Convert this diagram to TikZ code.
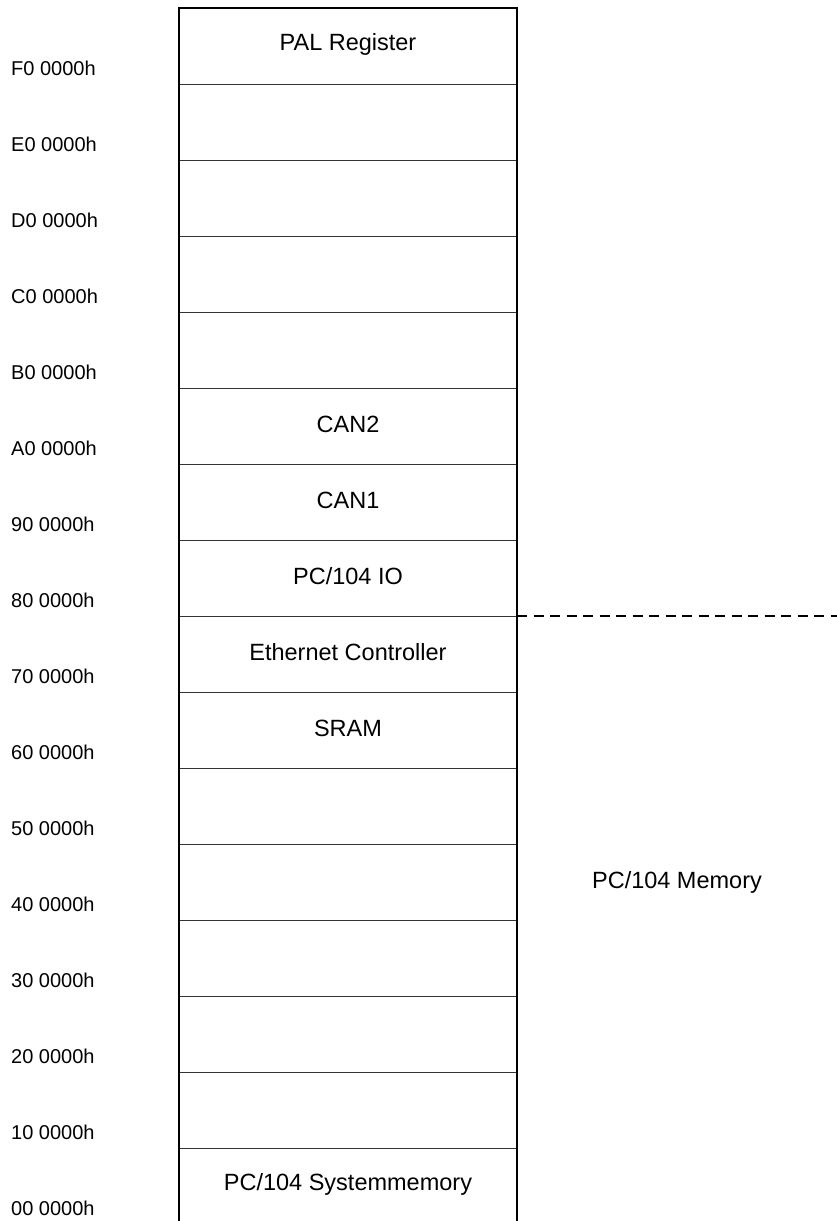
\documentclass[tikz,border=0pt]{standalone}
\usepackage{fontspec}
\setmainfont{Liberation Sans}
\usetikzlibrary{calc}

\begin{document}
\begin{tikzpicture}[
	x=1pt, y=1pt,
	every node/.style={font=\fontsize{23.5}{27}\selectfont},
	rowbox/.style={minimum width=338pt, minimum height=76pt, inner sep=0pt},
	addr/.style={anchor=west, inner sep=0pt, font=\fontsize{20}{24}\selectfont},
	sepline/.style={line width=0.9pt, black!80},
	frame/.style={line width=2.2pt},
	boundary/.style={line width=2.4pt, dash pattern=on 10pt off 6.5pt}
	]
	\useasboundingbox (0,0) rectangle (837,-1221);
	
	\foreach \addr/\lab [count=\i from 0] in {F0/{PAL Register}, E0/{}, D0/{}, C0/{}, B0/{}, A0/{CAN2}, 90/{CAN1}, 80/{PC/104 IO}, 70/{Ethernet Controller}, 60/{SRAM}, 50/{}, 40/{}, 30/{}, 20/{}, 10/{}, 00/{PC/104 Systemmemory}}
	{
		\node[rowbox] (r\i) at (348,{-8-76*(\i+0.5)+2}) {\lab};
		\node[addr] (a\i) at (11,{-8-76*(\i+1)+16}) {\addr\ 0000h};
	}
	\foreach \i in {0,...,14}
		\draw[sepline] ([yshift=-2pt]r\i.south west) -- ([yshift=-2pt]r\i.south east);
	
	\coordinate (pageend) at (837,0);
	\coordinate (bottom) at (0,-1221);
	\draw[frame] (r0.north west |- bottom) -- ([yshift=-2pt]r0.north west) -- ([yshift=-2pt]r0.north east) -- (r0.north east |- bottom);
	\draw[boundary] ([yshift=-2pt]r8.north east) -- ([yshift=-2pt]r8.north east -| pageend);
	\node (mem) at (677,-882) {PC/104 Memory};
\end{tikzpicture}
\end{document}
